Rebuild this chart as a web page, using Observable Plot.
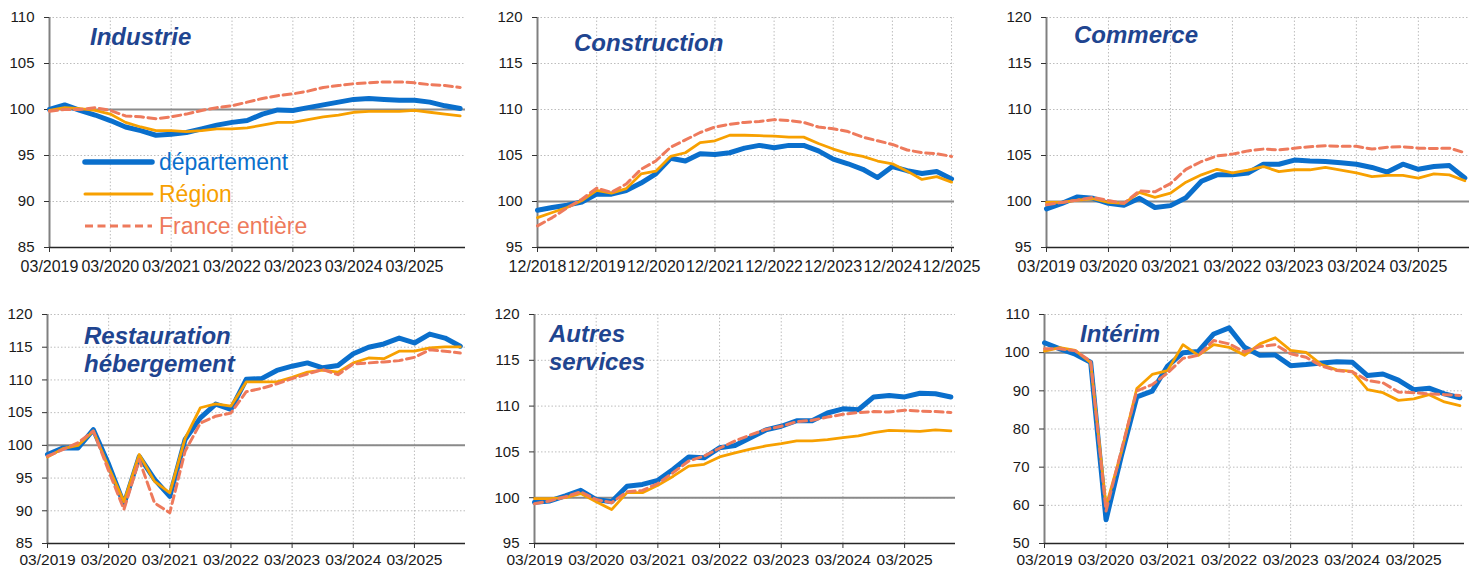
<!DOCTYPE html>
<html>
<head>
<meta charset="utf-8">
<script src="https://cdn.jsdelivr.net/npm/d3@7"></script>
<script src="https://cdn.jsdelivr.net/npm/@observablehq/plot@0.6"></script>
<style>
  html, body { margin: 0; padding: 0; background: #fff; }
  #root { position: relative; width: 1475px; height: 568px; overflow: hidden; background: #fff; font-family: "Liberation Sans", Arial, sans-serif; }
  .panel { position: absolute; }
  .title { position: absolute; font-family: "Liberation Sans", Arial, sans-serif; font-weight: bold; font-style: italic; font-size: 24px; line-height: 28px; color: #1F4590; white-space: nowrap; }
  svg { overflow: visible; }
</style>
</head>
<body>
<div id="root"></div>
<script>
// ---------- tick labels ----------
const ticksMar = ["03/2019","03/2020","03/2021","03/2022","03/2023","03/2024","03/2025"];
const ticksDec = ["12/2018","12/2019","12/2020","12/2021","12/2022","12/2023","12/2024","12/2025"];

// ---------- series (quarterly, index base 100) ----------
const industrieDep = [100.0,100.5,99.9,99.4,98.8,98.1,97.7,97.2,97.3,97.5,97.9,98.3,98.6,98.8,99.5,99.95,99.9,100.2,100.5,100.8,101.1,101.2,101.1,101.0,101.0,100.8,100.4,100.1];
const industrieReg = [99.9,100.2,100.1,99.9,99.5,98.6,98.1,97.7,97.7,97.6,97.7,97.9,97.9,98.0,98.3,98.6,98.6,98.9,99.2,99.4,99.7,99.8,99.8,99.8,99.9,99.7,99.5,99.3];
const industrieFr  = [99.8,100.0,100.0,100.2,99.9,99.3,99.2,99.0,99.2,99.5,99.9,100.2,100.4,100.8,101.2,101.5,101.7,102.0,102.4,102.6,102.8,102.9,103.0,103.0,102.9,102.7,102.6,102.4];

const constrDep = [99.05,99.35,99.6,99.95,100.8,100.8,101.2,102.0,103.0,104.7,104.4,105.2,105.1,105.3,105.8,106.1,105.85,106.1,106.1,105.5,104.6,104.1,103.5,102.6,103.8,103.35,103.05,103.25,102.45];
const constrReg = [98.25,98.8,99.35,100.1,101.2,100.9,101.4,103.0,103.3,104.9,105.3,106.4,106.6,107.2,107.2,107.15,107.1,107.0,107.0,106.3,105.7,105.2,104.9,104.4,104.1,103.3,102.4,102.7,102.1];
const constrFr  = [97.35,98.25,99.3,100.25,101.45,101.0,101.9,103.5,104.4,105.9,106.7,107.5,108.1,108.4,108.6,108.7,108.9,108.8,108.6,108.1,107.9,107.6,107.0,106.6,106.2,105.6,105.3,105.2,104.9];

const commerceDep = [99.2,99.8,100.5,100.35,99.8,99.6,100.35,99.35,99.55,100.4,102.2,102.9,102.9,103.1,104.05,104.05,104.5,104.4,104.35,104.2,104.05,103.7,103.2,104.05,103.5,103.8,103.9,102.55];
const commerceReg = [99.9,99.9,100.15,100.3,99.9,99.8,101.0,100.45,100.9,102.1,102.9,103.5,103.1,103.4,103.8,103.25,103.45,103.45,103.7,103.4,103.1,102.7,102.85,102.85,102.55,103.0,102.9,102.25];
const commerceFr  = [99.65,99.9,100.15,100.45,100.1,99.8,101.15,101.05,101.95,103.5,104.35,104.95,105.15,105.5,105.7,105.6,105.8,105.95,106.05,106.0,106.0,105.7,105.9,105.95,105.8,105.75,105.8,105.3];

const restDep = [98.6,99.6,99.6,102.4,97.1,91.0,98.3,94.8,92.2,100.9,104.2,106.3,105.5,110.1,110.2,111.45,112.1,112.6,111.85,112.2,114.0,115.0,115.5,116.4,115.65,117.0,116.4,115.15];
const restReg = [98.2,99.5,100.0,102.2,96.6,91.4,98.6,94.5,92.75,101.05,105.75,106.35,106.0,109.7,109.7,109.7,110.4,111.2,111.5,111.2,112.6,113.35,113.25,114.4,114.4,114.9,115.05,115.05];
const restFr  = [98.35,99.35,100.4,102.2,96.1,90.2,97.8,91.2,89.7,99.1,103.4,104.45,104.95,108.2,108.7,109.4,110.2,110.9,111.6,110.8,112.45,112.6,112.75,112.95,113.45,114.6,114.4,114.1];

const autresDep = [99.5,99.65,100.2,100.8,99.8,99.55,101.25,101.45,101.9,103.1,104.45,104.35,105.45,105.7,106.55,107.4,107.8,108.4,108.4,109.25,109.7,109.6,111.0,111.15,111.0,111.4,111.35,111.0];
const autresReg = [99.9,99.9,100.0,100.45,99.55,98.7,100.55,100.55,101.35,102.35,103.45,103.65,104.45,104.9,105.3,105.65,105.9,106.2,106.2,106.35,106.55,106.75,107.1,107.35,107.3,107.25,107.4,107.3];
const autresFr  = [99.35,99.65,100.1,100.65,99.8,99.45,100.65,100.8,101.55,102.75,104.0,104.55,105.4,106.2,106.85,107.45,107.8,108.3,108.45,108.8,109.1,109.3,109.4,109.35,109.55,109.45,109.4,109.3];

const interimDep = [102.6,101.0,99.6,97.5,56.2,73.0,88.4,89.9,96.5,100.0,100.3,104.9,106.5,101.4,99.3,99.4,96.6,96.9,97.3,97.6,97.5,94.0,94.4,92.8,90.3,90.7,89.2,88.2];
const interimReg = [100.4,101.3,100.6,97.4,59.8,74.0,90.6,94.3,95.3,102.1,99.3,102.1,101.4,99.3,102.3,103.9,100.6,100.1,96.9,95.5,95.1,90.3,89.5,87.5,87.9,89.0,87.1,86.1];
const interimFr  = [101.0,101.0,100.5,97.8,58.5,74.5,90.0,91.6,94.7,98.5,99.3,103.2,102.3,100.2,101.6,102.1,99.7,98.8,96.5,95.3,95.0,92.7,92.1,89.7,89.5,89.2,89.0,88.8];

// ---------- legend ----------
const seriesNames = ["département", "Région", "France entière"];

// ---------- styles ----------
const C_DEP = "#0A6FCC", C_REG = "#F7A000", C_FR = "#EE7A5C";

const root = document.getElementById("root");

function panel(cfg) {
  const tickIdx = cfg.tickLabels.map((_, k) => k * 4);
  const yTicks = d3.range(cfg.yDomain[0], cfg.yDomain[1] + 0.01, cfg.yStep);
  const plot = Plot.plot({
    width: cfg.w, height: cfg.h,
    marginLeft: cfg.ml, marginRight: cfg.mr, marginTop: cfg.mt, marginBottom: cfg.mb,
    style: { fontFamily: '"Liberation Sans", Arial, sans-serif', fontSize: "15px", color: "#1a1a1a", background: "transparent", overflow: "visible" },
    x: { type: "linear", domain: cfg.xDomain },
    y: { domain: cfg.yDomain },
    marks: [
      Plot.gridY({ ticks: yTicks, stroke: "#bdbdbd", strokeOpacity: 1, strokeDasharray: "1.5,2" }),
      Plot.gridX({ ticks: tickIdx.slice(1), stroke: "#bdbdbd", strokeOpacity: 1, strokeDasharray: "1.5,2" }),
      Plot.ruleY([100], { stroke: "#8a8a8a", strokeWidth: 2 }),
      Plot.ruleX([cfg.xDomain[0]], { stroke: "#808080", strokeWidth: 2 }),
      Plot.ruleY([cfg.yDomain[0]], { stroke: "#262626", strokeWidth: 1.3 }),
      Plot.axisY({ ticks: yTicks, tickSize: 5, tickPadding: 10, stroke: "#333", label: null, fontSize: 15, tickFormat: d => String(d) }),
      Plot.axisX({ ticks: tickIdx, tickSize: 5, tickPadding: cfg.xPad, stroke: "#333", label: null, fontSize: cfg.xFont, tickFormat: d => cfg.tickLabels[tickIdx.indexOf(d)] }),
      Plot.line(cfg.dep, { x: (d, i) => i, y: d => d, stroke: C_DEP, strokeWidth: 5, strokeLinejoin: "round", strokeLinecap: "round" }),
      Plot.line(cfg.reg, { x: (d, i) => i, y: d => d, stroke: C_REG, strokeWidth: 2.8, strokeLinejoin: "round", strokeLinecap: "round" }),
      Plot.line(cfg.fr,  { x: (d, i) => i, y: d => d, stroke: C_FR, strokeWidth: 3, strokeDasharray: "8,4.5", strokeLinejoin: "round" })
    ]
  });
  const div = document.createElement("div");
  div.className = "panel";
  div.style.left = cfg.left + "px";
  div.style.top = cfg.top + "px";
  div.appendChild(plot);
  root.appendChild(div);

  const t = document.createElement("div");
  t.className = "title";
  t.style.left = cfg.titleX + "px";
  t.style.top = cfg.titleY + "px";
  t.innerHTML = cfg.title.join("<br>");
  root.appendChild(t);
}

panel({ left: 0, top: 0, w: 490, h: 284, ml: 49, mr: 25, mt: 17, mb: 37, xPad: 8, xFont: 16,
  xDomain: [0, 27.35], yDomain: [85, 110], yStep: 5, tickLabels: ticksMar,
  dep: industrieDep, reg: industrieReg, fr: industrieFr,
  title: ["Industrie"], titleX: 90, titleY: 23 });

panel({ left: 490, top: 0, w: 495, h: 284, ml: 47, mr: 31, mt: 17, mb: 37, xPad: 8, xFont: 16,
  xDomain: [0, 28.2], yDomain: [95, 120], yStep: 5, tickLabels: ticksDec,
  dep: constrDep, reg: constrReg, fr: constrFr,
  title: ["Construction"], titleX: 574, titleY: 29 });

panel({ left: 985, top: 0, w: 490, h: 284, ml: 61, mr: 6, mt: 17, mb: 37, xPad: 8, xFont: 16,
  xDomain: [0, 27.3], yDomain: [95, 120], yStep: 5, tickLabels: ticksMar,
  dep: commerceDep, reg: commerceReg, fr: commerceFr,
  title: ["Commerce"], titleX: 1074, titleY: 21 });

panel({ left: 0, top: 284, w: 490, h: 284, ml: 47, mr: 25, mt: 30, mb: 25, xPad: 5, xFont: 15.5,
  xDomain: [0, 27.34], yDomain: [85, 120], yStep: 5, tickLabels: ticksMar,
  dep: restDep, reg: restReg, fr: restFr,
  title: ["Restauration", "hébergement"], titleX: 84, titleY: 322 });

panel({ left: 490, top: 284, w: 495, h: 284, ml: 44, mr: 30, mt: 30, mb: 25, xPad: 5, xFont: 15.5,
  xDomain: [0, 27.3], yDomain: [95, 120], yStep: 5, tickLabels: ticksMar,
  dep: autresDep, reg: autresReg, fr: autresFr,
  title: ["Autres", "services"], titleX: 549, titleY: 320 });

panel({ left: 985, top: 284, w: 490, h: 284, ml: 59, mr: 11, mt: 30, mb: 25, xPad: 5, xFont: 15.5,
  xDomain: [0, 27.3], yDomain: [50, 110], yStep: 10, tickLabels: ticksMar,
  dep: interimDep, reg: interimReg, fr: interimFr,
  title: ["Intérim"], titleX: 1080, titleY: 320 });

// legend (inside first panel)
const ns = "http://www.w3.org/2000/svg";
const leg = document.createElementNS(ns, "svg");
leg.setAttribute("width", 260); leg.setAttribute("height", 90);
leg.style.position = "absolute"; leg.style.left = "80px"; leg.style.top = "147px";
const legStyles = [
  { c: C_DEP, w: 5.5, dash: null },
  { c: C_REG, w: 3, dash: null },
  { c: C_FR, w: 3, dash: "8,4.5" }
];
seriesNames.forEach((name, k) => {
  const y = 15 + k * 32;
  const ln = document.createElementNS(ns, "line");
  ln.setAttribute("x1", 5); ln.setAttribute("x2", 72);
  ln.setAttribute("y1", y); ln.setAttribute("y2", y);
  ln.setAttribute("stroke", legStyles[k].c);
  ln.setAttribute("stroke-width", legStyles[k].w);
  ln.setAttribute("stroke-linecap", k === 2 ? "butt" : "round");
  if (legStyles[k].dash) ln.setAttribute("stroke-dasharray", legStyles[k].dash);
  leg.appendChild(ln);
  const tx = document.createElementNS(ns, "text");
  tx.setAttribute("x", 79); tx.setAttribute("y", y);
  tx.setAttribute("dy", "0.35em");
  tx.setAttribute("fill", legStyles[k].c);
  tx.setAttribute("font-family", '"Liberation Sans", Arial, sans-serif');
  tx.setAttribute("font-size", "23px");
  tx.textContent = name;
  leg.appendChild(tx);
});
root.appendChild(leg);
</script>
</body>
</html>
